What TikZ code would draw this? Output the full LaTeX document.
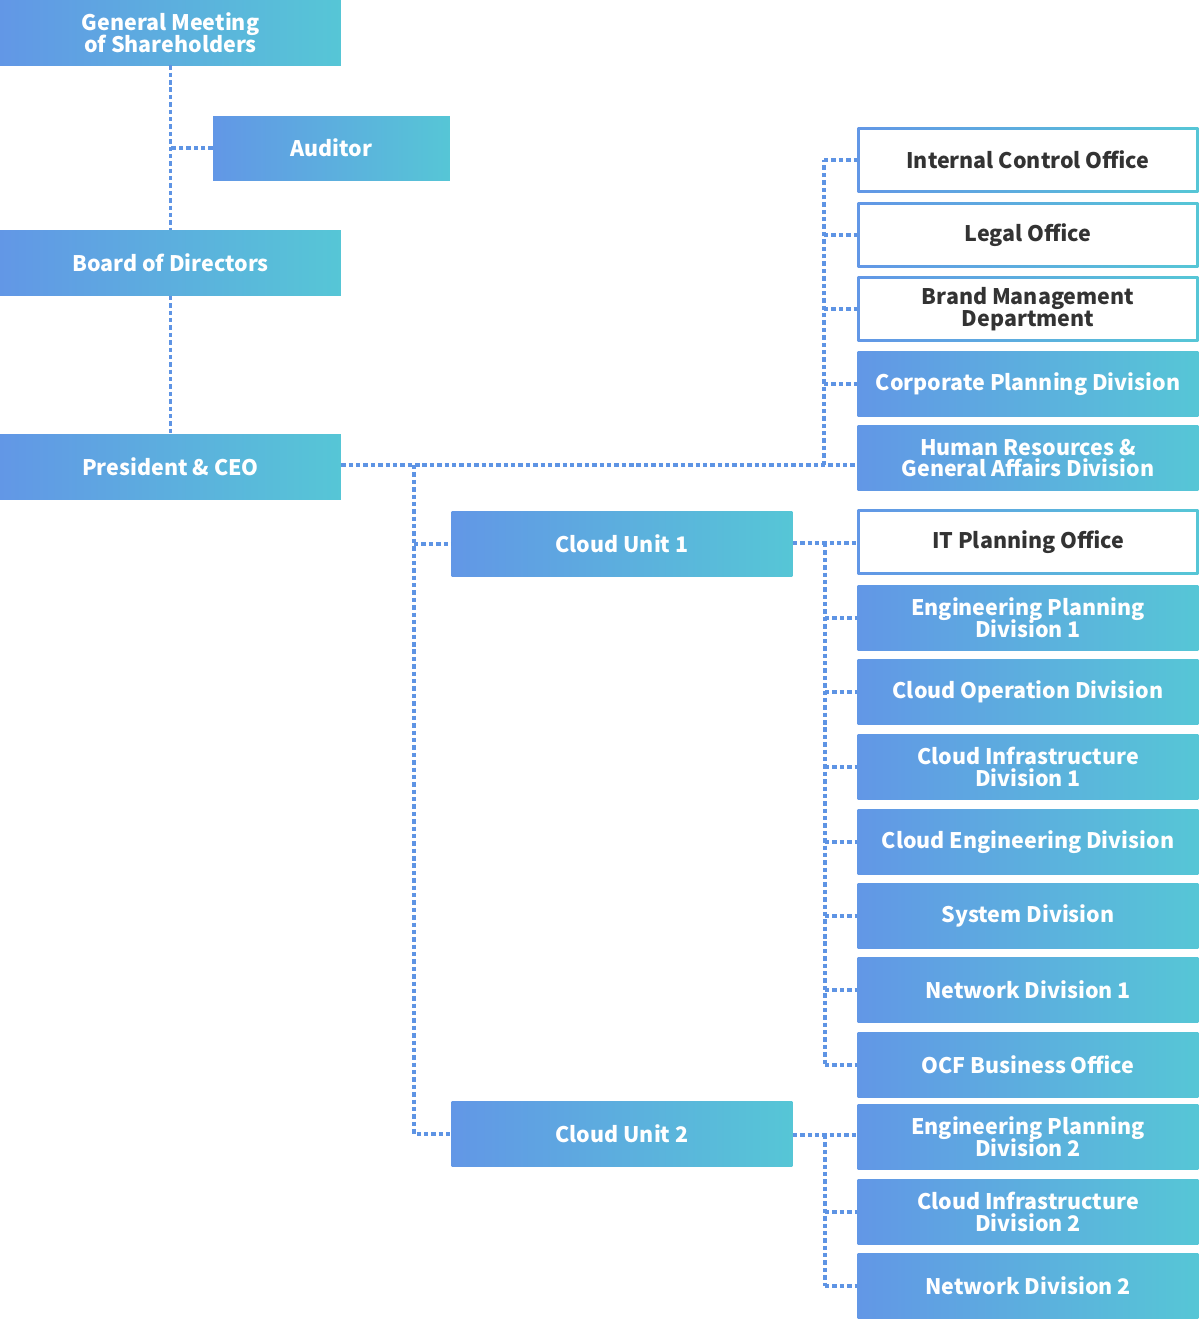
\documentclass[tikz,border=0pt]{standalone}
\usepackage{fontspec}
\setmainfont{Noto Sans CJK JP}
\setlength{\lineskiplimit}{-8pt}
\definecolor{gradL}{RGB}{98,151,230}
\definecolor{gradR}{RGB}{86,198,214}
\definecolor{linkblue}{RGB}{94,148,228}
\definecolor{inkgray}{RGB}{51,51,51}
\begin{document}
\begin{tikzpicture}[x=0.02cm, y=-0.02cm,
  unit/.style={left color=gradL, right color=gradR, inner sep=0pt, minimum width=6.82cm, minimum height=1.3cm, align=center, text=white, font=\bfseries\fontsize{12.2}{12.4}\selectfont},
  office/.style={unit, text=inkgray, path picture={\fill[white] ([shift={(1.6pt,-1.6pt)}]path picture bounding box.north west) rectangle ([shift={(-1.6pt,1.6pt)}]path picture bounding box.south east);}},
  link/.style={draw=linkblue, line width=1.75pt, dash pattern=on 2.5pt off 1.7pt}]
  \useasboundingbox (0,0) rectangle (1200,1320);
  \node[unit] (gms) at (170.5,32.5) {General Meeting\\of Shareholders};
  \node[unit, minimum width=4.74cm, minimum height=1.28cm] (aud) at (331.5,148) {Auditor};
  \node[unit] (bod) at (170.5,263) {Board of Directors};
  \node[unit] (ceo) at (170.5,467) {President \& CEO};
  \node[unit] (cu1) at (622,544) {Cloud Unit 1};
  \node[unit] (cu2) at (622,1134) {Cloud Unit 2};
  \node[office] (ico) at (1028,160) {Internal Control Office};
  \node[office] (legal) at (1028,235) {Legal Office};
  \node[office] (brand) at (1028,309) {Brand Management\\Department};
  \node[unit] (cpd) at (1028,384) {Corporate Planning Division};
  \node[unit] (hr) at (1028,458) {Human Resources \&\\General Affairs Division};
  \node[office] (itp) at (1028,542) {IT Planning Office};
  \node[unit] (epd1) at (1028,618) {Engineering Planning\\Division 1};
  \node[unit] (cod) at (1028,692) {Cloud Operation Division};
  \node[unit] (cid1) at (1028,767) {Cloud Infrastructure\\Division 1};
  \node[unit] (ced) at (1028,842) {Cloud Engineering Division};
  \node[unit] (sys) at (1028,916) {System Division};
  \node[unit] (nd1) at (1028,990) {Network Division 1};
  \node[unit] (ocf) at (1028,1065) {OCF Business Office};
  \node[unit] (epd2) at (1028,1137) {Engineering Planning\\Division 2};
  \node[unit] (cid2) at (1028,1212) {Cloud Infrastructure\\Division 2};
  \node[unit] (nd2) at (1028,1286) {Network Division 2};
  \coordinate (hq) at (824,465);
  \coordinate (cu) at (414,465);
  \coordinate (t1) at (825,543);
  \coordinate (t2) at (825,1135);
  \draw[link] (gms) -- (bod);
  \draw[link] (aud.west) -- (aud.west -| gms.south);
  \draw[link] (bod) -- (ceo);
  \draw[link] (ceo.east |- hq) -- (hq -| hr.west);
  \draw[link] (hq) -- (hq |- ico.west);
  \foreach \n in {ico,legal,brand,cpd}
    \draw[link] (hq |- \n.west) -- (\n.west);
  \draw[link] (cu) -- (cu |- cu2.west) -- (cu2.west);
  \draw[link] (cu |- cu1.west) -- (cu1.west);
  \draw[link] (cu1.east |- t1) -- (t1 -| itp.west);
  \draw[link] (t1) -- (t1 |- ocf.west);
  \foreach \n in {epd1,cod,cid1,ced,sys,nd1,ocf}
    \draw[link] (t1 |- \n.west) -- (\n.west);
  \draw[link] (cu2.east |- t2) -- (t2 -| epd2.west);
  \draw[link] (t2) -- (t2 |- nd2.west);
  \foreach \n in {cid2,nd2}
    \draw[link] (t2 |- \n.west) -- (\n.west);
\end{tikzpicture}
\end{document}
